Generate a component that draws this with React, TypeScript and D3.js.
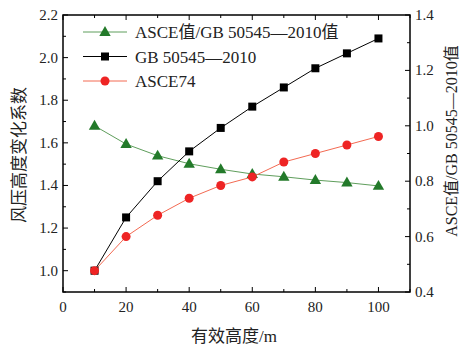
import React from "react";
import * as d3 from "d3";

const heights = [10, 20, 30, 40, 50, 60, 70, 80, 90, 100];
const gbValues = [1.0, 1.25, 1.42, 1.56, 1.67, 1.77, 1.86, 1.95, 2.02, 2.09];
const asceValues = [1.0, 1.16, 1.26, 1.34, 1.40, 1.44, 1.51, 1.55, 1.59, 1.63];
const ratioValues = [1.0, 0.934, 0.892, 0.863, 0.843, 0.826, 0.816, 0.804, 0.795, 0.783];
const xTicks = [0, 20, 40, 60, 80, 100];
const leftTicks = [1.0, 1.2, 1.4, 1.6, 1.8, 2.0, 2.2];
const rightTicks = [0.4, 0.6, 0.8, 1.0, 1.2, 1.4];

const W = 460, H = 346;
const L = 63, R = 410, T = 15, B = 292;
const FONT = "'Liberation Serif', 'Times New Roman', 'Noto Sans CJK SC', serif";

export default function App() {
  const x = d3.scaleLinear().domain([0, 110]).range([L, R]);
  const yL = d3.scaleLinear().domain([0.9, 2.2]).range([B, T]);
  const yR = d3.scaleLinear().domain([0.4, 1.4]).range([B, T]);
  const line = (ys: number[], sc: d3.ScaleLinear<number, number>) =>
    d3.line<number>().x((_, i) => x(heights[i])).y((v) => sc(v))(ys) || "";

  const xMinor = d3.range(0, 111, 10);
  const lMinor = d3.range(9, 23, 1).map((v) => v / 10);
  const rMinor = d3.range(4, 15, 1).map((v) => v / 10);

  const green = "#237a2a";
  const greenLine = "#5f9e5c";
  const red = "#ee2424";
  const redLine = "#f36a52";

  const tri = (cx: number, cy: number, s = 6) =>
    `M${cx},${cy - s}L${cx + s * 0.95},${cy + s * 0.65}L${cx - s * 0.95},${cy + s * 0.65}Z`;

  const legend = [
    { label: "ASCE值/GB 50545—2010值", type: "tri", color: green, lc: greenLine },
    { label: "GB 50545—2010", type: "sq", color: "#000", lc: "#000" },
    { label: "ASCE74", type: "circ", color: red, lc: redLine },
  ];

  return (
    <svg width={W} height={H} style={{ position: "absolute", left: 0, top: 0, background: "#fff" }} fontFamily={FONT}>
      {/* frame */}
      <rect x={L} y={T} width={R - L} height={B - T} fill="none" stroke="#000" strokeWidth={1.5} />
      {/* x ticks bottom & top */}
      {xMinor.map((v) => {
        const major = v % 20 === 0;
        const len = major ? 5 : 3;
        return (
          <g key={"x" + v}>
            <line x1={x(v)} x2={x(v)} y1={B} y2={B - len} stroke="#000" strokeWidth={1} />
            <line x1={x(v)} x2={x(v)} y1={T} y2={T + len} stroke="#000" strokeWidth={1} />
          </g>
        );
      })}
      {xTicks.map((v) => (
        <text key={"xl" + v} x={x(v)} y={B + 20} fontSize={15} textAnchor="middle" fill="#222">{v}</text>
      ))}
      {/* left ticks */}
      {lMinor.map((v) => {
        const major = Math.round(v * 10) % 2 === 0;
        return <line key={"l" + v} x1={L} x2={L + (major ? 5 : 3)} y1={yL(v)} y2={yL(v)} stroke="#000" />;
      })}
      {leftTicks.map((v) => (
        <text key={"ll" + v} x={L - 5} y={yL(v) + 5} fontSize={15} textAnchor="end" fill="#222">{v.toFixed(1)}</text>
      ))}
      {/* right ticks */}
      {rMinor.map((v) => {
        const major = Math.round(v * 10) % 2 === 0;
        return <line key={"r" + v} x1={R} x2={R - (major ? 5 : 3)} y1={yR(v)} y2={yR(v)} stroke="#000" />;
      })}
      {rightTicks.map((v) => (
        <text key={"rl" + v} x={R + 5} y={yR(v) + 5} fontSize={15} textAnchor="start" fill="#222">{v.toFixed(1)}</text>
      ))}
      {/* axis titles */}
      <text x={234} y={342} fontSize={17} textAnchor="middle" fill="#222">有效高度/m</text>
      <text transform={`translate(25,155) rotate(-90)`} fontSize={17} textAnchor="middle" fill="#222">风压高度变化系数</text>
      <text transform={`translate(457,141) rotate(-90)`} fontSize={16} textAnchor="middle" fill="#222">ASCE值/GB 50545—2010值</text>
      {/* series lines */}
      <path d={line(ratioValues, yR)} fill="none" stroke={greenLine} strokeWidth={1} />
      <path d={line(gbValues, yL)} fill="none" stroke="#000" strokeWidth={1} />
      <path d={line(asceValues, yL)} fill="none" stroke={redLine} strokeWidth={1} />
      {/* markers */}
      {ratioValues.map((v, i) => (
        <path key={"g" + i} d={tri(x(heights[i]), yR(v))} fill={green} />
      ))}
      {gbValues.map((v, i) => (
        <rect key={"b" + i} x={x(heights[i]) - 4} y={yL(v) - 4} width={8} height={8} fill="#000" />
      ))}
      {asceValues.map((v, i) => (
        <circle key={"c" + i} cx={x(heights[i])} cy={yL(v)} r={4.5} fill={red} />
      ))}
      {/* legend */}
      {legend.map((d, i) => {
        const cy = 32 + i * 24.5;
        return (
          <g key={"lg" + i}>
            <line x1={83} x2={127} y1={cy} y2={cy} stroke={d.lc} strokeWidth={1} />
            {d.type === "tri" && <path d={tri(105, cy)} fill={d.color} />}
            {d.type === "sq" && <rect x={101} y={cy - 4} width={8} height={8} fill={d.color} />}
            {d.type === "circ" && <circle cx={105} cy={cy} r={4.5} fill={d.color} />}
            <text x={135} y={cy + 6} fontSize={17} fill="#222">{d.label}</text>
          </g>
        );
      })}
    </svg>
  );
}
